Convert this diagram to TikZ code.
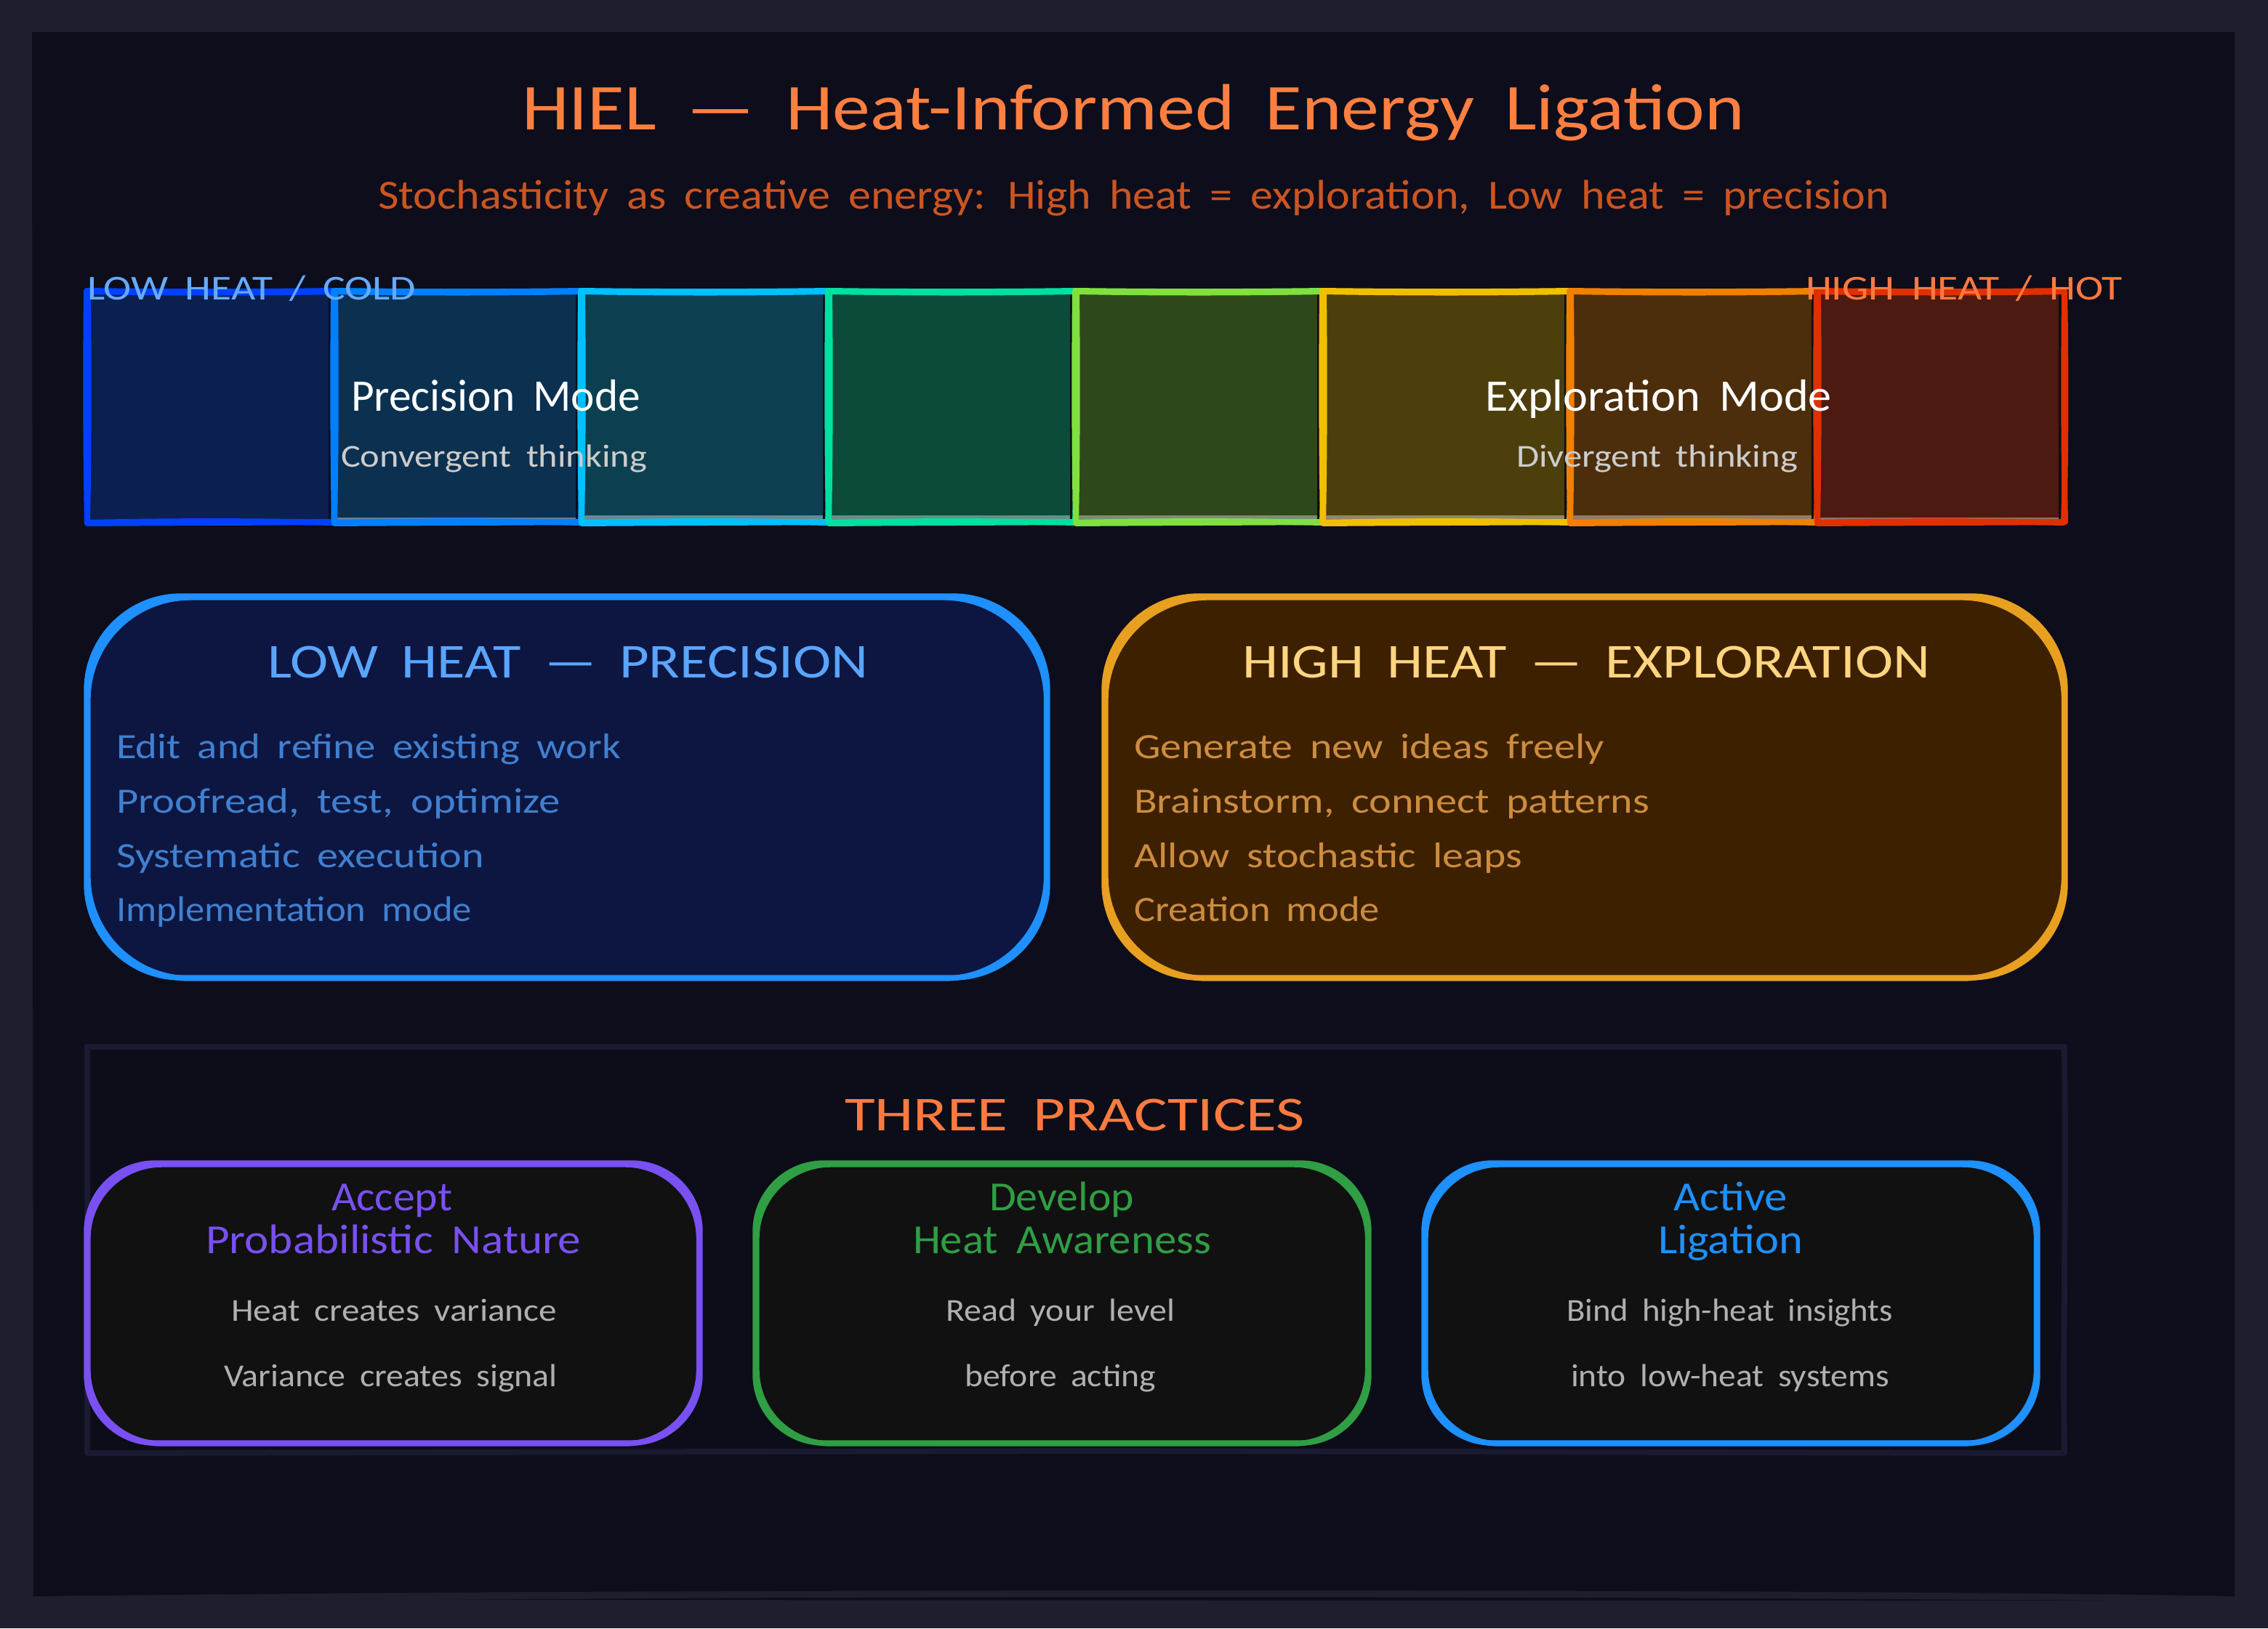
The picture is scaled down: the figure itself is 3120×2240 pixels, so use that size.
\documentclass[tikz,border=0pt]{standalone}
\usepackage{graphicx}
\usepackage{fontspec}
\setmainfont[WordSpace=1.8]{Carlito}
\definecolor{pagebg}{HTML}{1E1E2E}
\definecolor{innerbg}{HTML}{0D0D1C}
\definecolor{framec}{HTML}{1A1A30}
\definecolor{framefill}{HTML}{0C0D18}
\definecolor{titlec}{HTML}{FF7F40}
\definecolor{subc}{HTML}{CC5520}
\definecolor{coldc}{HTML}{66AAFF}
\definecolor{hotc}{HTML}{FF7A40}
\definecolor{softw}{HTML}{CCCCCC}
\definecolor{softg}{HTML}{B0B0B0}
\definecolor{bluec}{HTML}{1E90FF}
\definecolor{bluefill}{HTML}{0D1640}
\definecolor{bluehead}{HTML}{5AA5FF}
\definecolor{bluelist}{HTML}{4080D0}
\definecolor{orc}{HTML}{E8A020}
\definecolor{orfill}{HTML}{3D2000}
\definecolor{orhead}{HTML}{FFD580}
\definecolor{orlist}{HTML}{CC8C40}
\definecolor{purc}{HTML}{7950F2}
\definecolor{grc}{HTML}{2F9E44}
\definecolor{cardfill}{HTML}{111111}
\definecolor{sa}{HTML}{0040FF}\definecolor{fa}{HTML}{0C2050}
\definecolor{sb}{HTML}{0080FF}\definecolor{fb}{HTML}{0C3050}
\definecolor{sc}{HTML}{00C0FF}\definecolor{fc}{HTML}{0C4050}
\definecolor{sd}{HTML}{00E0A0}\definecolor{fd}{HTML}{0C4A3A}
\definecolor{se}{HTML}{80E040}\definecolor{fe}{HTML}{2E481C}
\definecolor{sf}{HTML}{F0C000}\definecolor{ff}{HTML}{4C3F0C}
\definecolor{sg}{HTML}{F08000}\definecolor{fg}{HTML}{4C2E0C}
\definecolor{sh}{HTML}{E03000}\definecolor{fh}{HTML}{4C1A10}
\tikzset{
  txt/.style={inner sep=0pt,outer sep=0pt,anchor=base west},
  sketch/.style={line join=round,line cap=round,line width=3.7pt},
  cellstroke/.style={line join=round,line cap=round,line width=4pt}
}
% width-fitted real text: #1 width in px, #2 size in pt, #3 text
\newcommand{\fitted}[3]{%
  \setbox0=\hbox{\fontsize{#2}{#2}\selectfont #3}%
  \pgfmathsetmacro\fitratio{(#1)*0.5/\the\wd0}%
  \scalebox{\fitratio}[1]{\box0}}
% name, x-left, x-right, baseline, size, colour, text
\newcommand{\tx}[7]{%
  \node[txt,text=#6] (#1) at (#2,#4) {\fitted{#3-#2}{#5}{#7}};}
% spectrum cell: x1, colour stroke, colour fill, band top
\newcommand{\cell}[4]{%
  \pgfmathsetmacro\xa{#1}\pgfmathsetmacro\xb{#1+340}
  \pgfmathsetmacro\xc{#1+113}\pgfmathsetmacro\xd{#1+226}
  \fill[#3] (\xa,401) rectangle (\xb-8,716);
  \fill[white,opacity=.38] (\xa,#4) rectangle (\xb-8,716);
  \draw[cellstroke,#2] (\xa-1,400) .. controls (\xc,401.5) and (\xd,401.5) .. (\xb,400)
     .. controls (\xb+2,500) and (\xb+2,620) .. (\xb-1,719)
     .. controls (\xd,716.5) and (\xc,716.5) .. (\xa,719)
     .. controls (\xa-2,620) and (\xa-2,500) .. (\xa-1,400) -- cycle;
  \draw[cellstroke,#2] (\xa+1,401) .. controls (\xc,403) and (\xd,403) .. (\xb,401)
     .. controls (\xb-1,500) and (\xb-1,620) .. (\xb+1,718)
     .. controls (\xd,719) and (\xc,719) .. (\xa,720)
     .. controls (\xa+2,620) and (\xa+2,500) .. (\xa+1,401) -- cycle;
}
% rounded card: x1,y1,x2,y2,radius(pt),stroke,fill
\newcommand{\card}[7]{%
  \fill[#7,rounded corners=#5] (#1,#2) rectangle (#3,#4);
  \draw[sketch,#6,rounded corners=#5] (#1-1,#2-1) rectangle (#3+1,#4+1);
  \pgfmathsetmacro\rb{#5*1.08}
  \draw[sketch,#6,rounded corners=\rb pt] (#1+1,#2+1) rectangle (#3-.5,#4+2);
}
\begin{document}
\begin{tikzpicture}[x=0.5pt,y=-0.5pt]
\useasboundingbox (0,0) rectangle (3120,2240);
\fill[pagebg] (0,0) rectangle (3120,2240);
\fill[innerbg] (44,44) -- (3074,44) -- (3074,2196) .. controls (2600,2186) and (1000,2184) .. (46,2196) -- cycle;
\fill[innerbg] (600,2201) .. controls (1200,2196) and (2000,2195) .. (2900,2202) -- cycle;

\tx{title}{718}{2400}{178}{45}{titlec}{HIEL — Heat-Informed Energy Ligation}
\tx{subtitle}{520}{2599}{287}{28.5}{subc}{Stochasticity as creative energy: High heat = exploration, Low heat = precision}

\cell{120}{sa}{fa}{716}
\cell{460}{sb}{fb}{712}
\cell{800}{sc}{fc}{709}
\cell{1140}{sd}{fd}{709}
\cell{1480}{se}{fe}{709}
\cell{1820}{sf}{ff}{709}
\cell{2160}{sg}{fg}{709}
\cell{2500}{sh}{fh}{712}

\tx{coldlabel}{120}{572}{412}{24}{coldc}{LOW HEAT / COLD}
\tx{hotlabel}{2484}{2920}{412}{24}{hotc}{HIGH HEAT / HOT}
\tx{precmode}{483}{881}{565}{31}{white}{Precision Mode}
\tx{convthink}{469}{890}{642}{22}{softw}{Convergent thinking}
\tx{explmode}{2043}{2520}{565}{31}{white}{Exploration Mode}
\tx{divthink}{2086}{2473}{642}{22}{softw}{Divergent thinking}

\card{120}{821}{1440}{1344}{65pt}{bluec}{bluefill}
\card{1520}{821}{2840}{1344}{65pt}{orc}{orfill}

\tx{lowhead}{368}{1194}{932}{33.5}{bluehead}{LOW HEAT — PRECISION}
\tx{lowa}{160}{854}{1043}{24.5}{bluelist}{Edit and refine existing work}
\tx{lowb}{160}{771}{1118}{24.5}{bluelist}{Proofread, test, optimize}
\tx{lowc}{160}{666}{1193}{24.5}{bluelist}{Systematic execution}
\tx{lowd}{160}{649}{1267}{24.5}{bluelist}{Implementation mode}

\tx{highhead}{1709}{2655}{932}{33.5}{orhead}{HIGH HEAT — EXPLORATION}
\tx{higha}{1560}{2207}{1043}{24.5}{orlist}{Generate new ideas freely}
\tx{highb}{1560}{2269}{1118}{24.5}{orlist}{Brainstorm, connect patterns}
\tx{highc}{1560}{2094}{1193}{24.5}{orlist}{Allow stochastic leaps}
\tx{highd}{1560}{1898}{1267}{24.5}{orlist}{Creation mode}

\fill[framefill] (120,1440) rectangle (2840,1999);
\draw[framec,line width=4pt,line join=round] (120,1440) -- (2840,1440) .. controls (2843,1700) and (2837,1850) .. (2840,1999) -- (1500,1996) -- (120,1999) -- cycle;
\tx{threehead}{1162}{1795}{1555}{33.5}{hotc}{THREE PRACTICES}

\card{120}{1601}{962}{1984}{47pt}{purc}{cardfill}
\card{1040}{1601}{1882}{1984}{47pt}{grc}{cardfill}
\card{1960}{1601}{2802}{1984}{47pt}{bluec}{cardfill}

\tx{purt}{456}{622}{1665}{28.5}{purc}{Accept}
\tx{purb}{283}{799}{1724}{28.5}{purc}{Probabilistic Nature}
\tx{pura}{318}{766}{1817}{22}{softg}{Heat creates variance}
\tx{purc}{308}{767}{1907}{22}{softg}{Variance creates signal}

\tx{grnt}{1361}{1560}{1665}{28.5}{grc}{Develop}
\tx{grnb}{1256}{1666}{1724}{28.5}{grc}{Heat Awareness}
\tx{grna}{1301}{1616}{1817}{22}{softg}{Read your level}
\tx{grnc}{1327}{1590}{1907}{22}{softg}{before acting}

\tx{blut}{2302}{2459}{1665}{28.5}{bluec}{Active}
\tx{blub}{2281}{2480}{1724}{28.5}{bluec}{Ligation}
\tx{blua}{2155}{2604}{1817}{22}{softg}{Bind high-heat insights}
\tx{bluc}{2161}{2599}{1907}{22}{softg}{into low-heat systems}
\end{tikzpicture}
\end{document}
